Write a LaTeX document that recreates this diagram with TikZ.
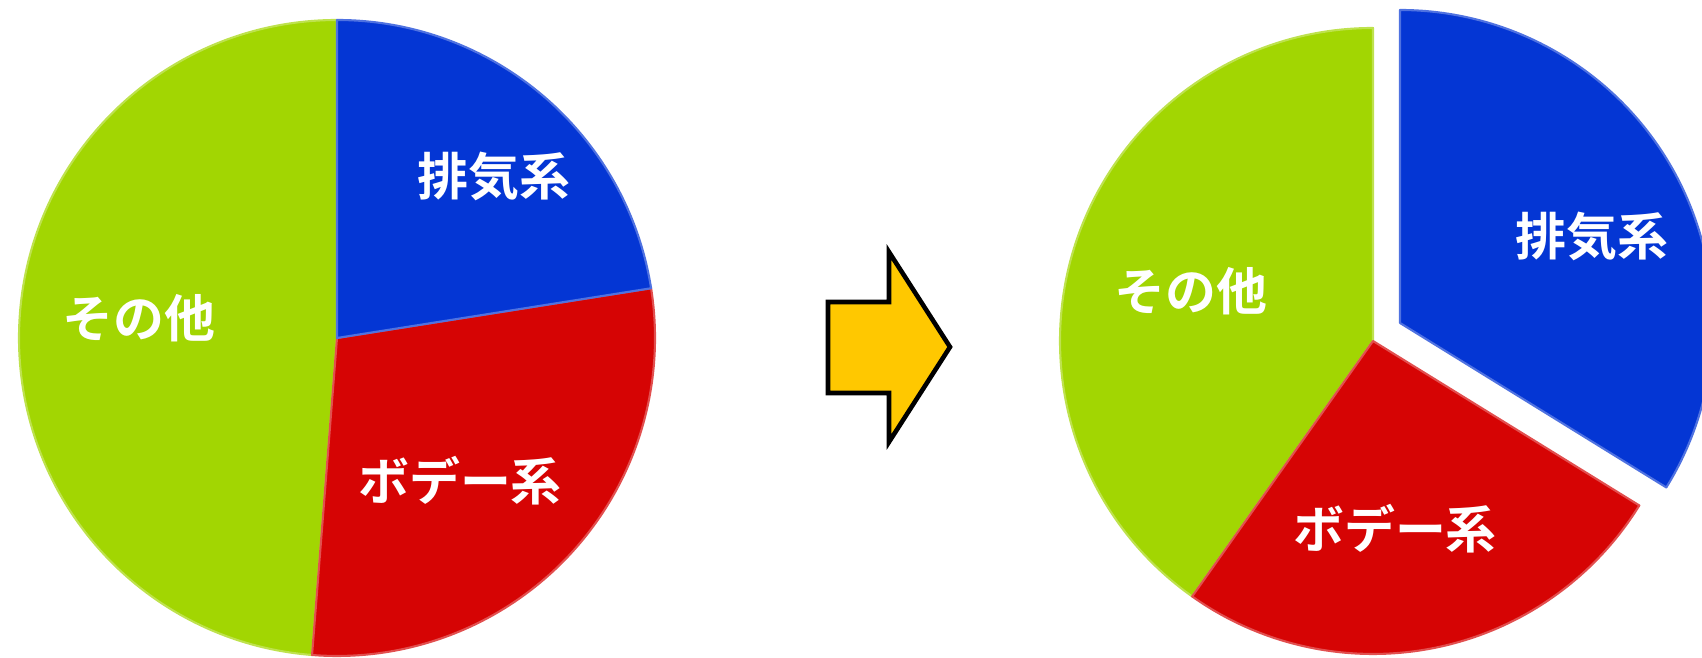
\documentclass[tikz,border=0pt]{standalone}
\usepackage{fontspec}
\newfontfamily\jpfont{Noto Sans CJK JP}[BoldFont={Noto Sans CJK JP Bold}]
\usetikzlibrary{calc}
\definecolor{pielime}{RGB}{162,214,2}
\definecolor{pieblue}{RGB}{4,54,212}
\definecolor{piered}{RGB}{214,4,4}
\definecolor{arrowgold}{RGB}{255,200,0}

\begin{document}
\begin{tikzpicture}[x=0.02cm, y=0.02cm, line cap=round, line join=round,
	wedge/.style={fill=#1, draw=#1!70!white, line width=1.2pt},
	lbl/.style={text=white, inner sep=0pt, font=\jpfont\bfseries\fontsize{29}{30}\selectfont}]
	\useasboundingbox (0,0) rectangle (1702,658);
	\clip (0,0) rectangle (1702,658);

	% left pie: centre and slices
	\coordinate (L) at (337,320);
	\draw[wedge=pielime] (L) -- ++(90:318) arc[start angle=90, end angle=265.5, radius=318] -- cycle;
	\draw[wedge=piered] (L) -- ++(265.5:318) arc[start angle=265.5, end angle=369, radius=318] -- cycle;
	\draw[wedge=pieblue] (L) -- ++(9:318) arc[start angle=9, end angle=90, radius=318] -- cycle;
	\node[lbl] (lother) at (139,340) {その他};
	\node[lbl] (lexhaust) at (494,482) {排気系};
	\node[lbl] (lbody) at (460,177) {ボデー系};

	% block arrow
	\coordinate (a1) at (828,356);
	\coordinate (a2) at (889,356);
	\coordinate (a3) at (889,406);
	\coordinate (a4) at (950,311);
	\coordinate (a5) at (889,216);
	\coordinate (a6) at (889,265);
	\coordinate (a7) at (828,265);
	\filldraw[fill=arrowgold, draw=black, line width=2.6pt, line cap=butt, line join=miter]
		(a1) -- (a2) -- (a3) -- (a4) -- (a5) -- (a6) -- (a7) -- cycle;

	% right pie with the exhaust slice pulled out
	\coordinate (R) at (1373,317);
	\coordinate (Rb) at ($(R)+(27,18)$);
	\draw[wedge=pielime] (R) -- ++(90:313) arc[start angle=90, end angle=234.7, radius=313] -- cycle;
	\draw[wedge=piered] (R) -- ++(234.7:313) arc[start angle=234.7, end angle=328.3, radius=313] -- cycle;
	\draw[wedge=pieblue] (Rb) -- ++(328.3:313) arc[start angle=328.3, end angle=450, radius=313] -- cycle;
	\node[lbl] (rother) at (1191,367) {その他};
	\node[lbl] (rexhaust) at (1592,422) {排気系};
	\node[lbl] (rbody) at (1395,129) {ボデー系};
\end{tikzpicture}
\end{document}
